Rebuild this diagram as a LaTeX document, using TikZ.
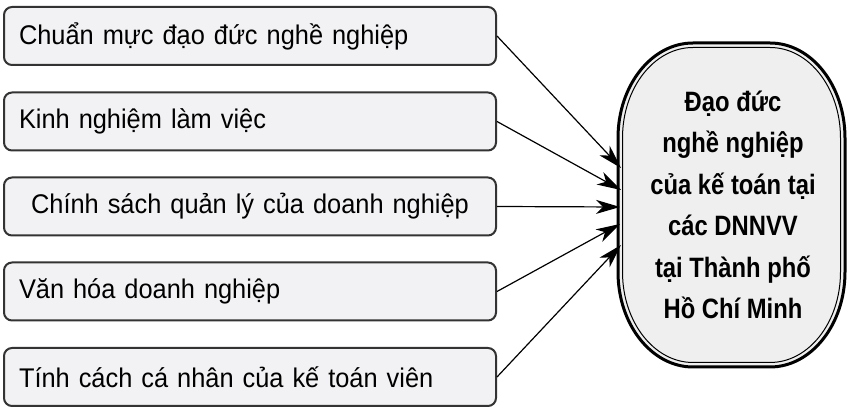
\documentclass[tikz,border=0pt]{standalone}
\usepackage{fontspec}
\setmainfont{Liberation Sans}
\newfontfamily\boxfont[FakeStretch=0.94]{Liberation Sans}
\newfontfamily\narrowfont[FakeStretch=0.85]{Liberation Sans}
\usetikzlibrary{calc}
\usetikzlibrary{arrows.meta}
\definecolor{boxfill}{HTML}{F2F2F4}
\definecolor{bigfill}{HTML}{EFEFEF}
\definecolor{boxline}{HTML}{333333}
\tikzset{
  factor/.style={draw=boxline, line width=1pt, fill=boxfill, rounded corners=4pt,
    minimum width=246pt, minimum height=29pt, text width=231pt, inner xsep=7.5pt,
    align=left, font=\boxfont\fontsize{13.5}{16}\selectfont},
  ethics/.style={minimum width=113.5pt, minimum height=162pt, align=center,
    font=\narrowfont\bfseries\fontsize{14}{20.75}\selectfont},
  arr/.style={line width=0.6pt, -{Stealth[length=12pt, width=7pt, inset=3.5pt]}}
}

\begin{document}
\begin{tikzpicture}[x=0.5pt, y=0.5pt]
    \def\rx{75};
    \def\ry{95};
    \useasboundingbox (0, 0) rectangle (852, 412);

    % outline of the result box, two lines
    \draw[line width=1.5pt, fill=bigfill] (693, 369) -- (770, 369)
        arc[start angle=90, end angle=0, x radius=\rx, y radius=\ry] -- (845, 140)
        arc[start angle=0, end angle=-90, x radius=\rx, y radius=\ry] -- (693, 45)
        arc[start angle=270, end angle=180, x radius=\rx, y radius=\ry] -- (618, 274)
        arc[start angle=180, end angle=90, x radius=\rx, y radius=\ry] -- cycle;
    \draw[line width=0.5pt] (693, 364.5) -- (770, 364.5)
        arc[start angle=90, end angle=0, x radius=\rx-4.5, y radius=\ry-4.5] -- (840.5, 140)
        arc[start angle=0, end angle=-90, x radius=\rx-4.5, y radius=\ry-4.5] -- (693, 49.5)
        arc[start angle=270, end angle=180, x radius=\rx-4.5, y radius=\ry-4.5] -- (622.5, 274)
        arc[start angle=180, end angle=90, x radius=\rx-4.5, y radius=\ry-4.5] -- cycle;
    \node[ethics] (E) at (733, 207) {Đạo đức\\nghề nghiệp\\của kế toán tại\\các DNNVV\\tại Thành phố\\Hồ Chí Minh};

    % factors on the left
    \node[factor] (F1) at (250, 376) {Chuẩn mực đạo đức nghề nghiệp};
    \node[factor] (F2) at (250, 290.5) {Kinh nghiệm làm việc};
    \node[factor, text width=242pt, inner xsep=2pt, align=center] (F3) at (250, 205.5) {Chính sách quản lý của doanh nghiệp};
    \node[factor] (F4) at (250, 120.5) {Văn hóa doanh nghiệp};
    \node[factor] (F5) at (250, 35) {Tính cách cá nhân của kế toán viên};

    \coordinate (T1) at (621, 244);
    \coordinate (T2) at (621, 222);
    \coordinate (T3) at (620, 205);
    \coordinate (T4) at (620, 188);
    \coordinate (T5) at (621, 167);
    \draw[arr] (F1.east) -- (T1);
    \draw[arr] (F2.east) -- (T2);
    \draw[arr] (F3.east) -- (T3);
    \draw[arr] (F4.east) -- (T4);
    \draw[arr] (F5.east) -- (T5);

\end{tikzpicture}
\end{document}
